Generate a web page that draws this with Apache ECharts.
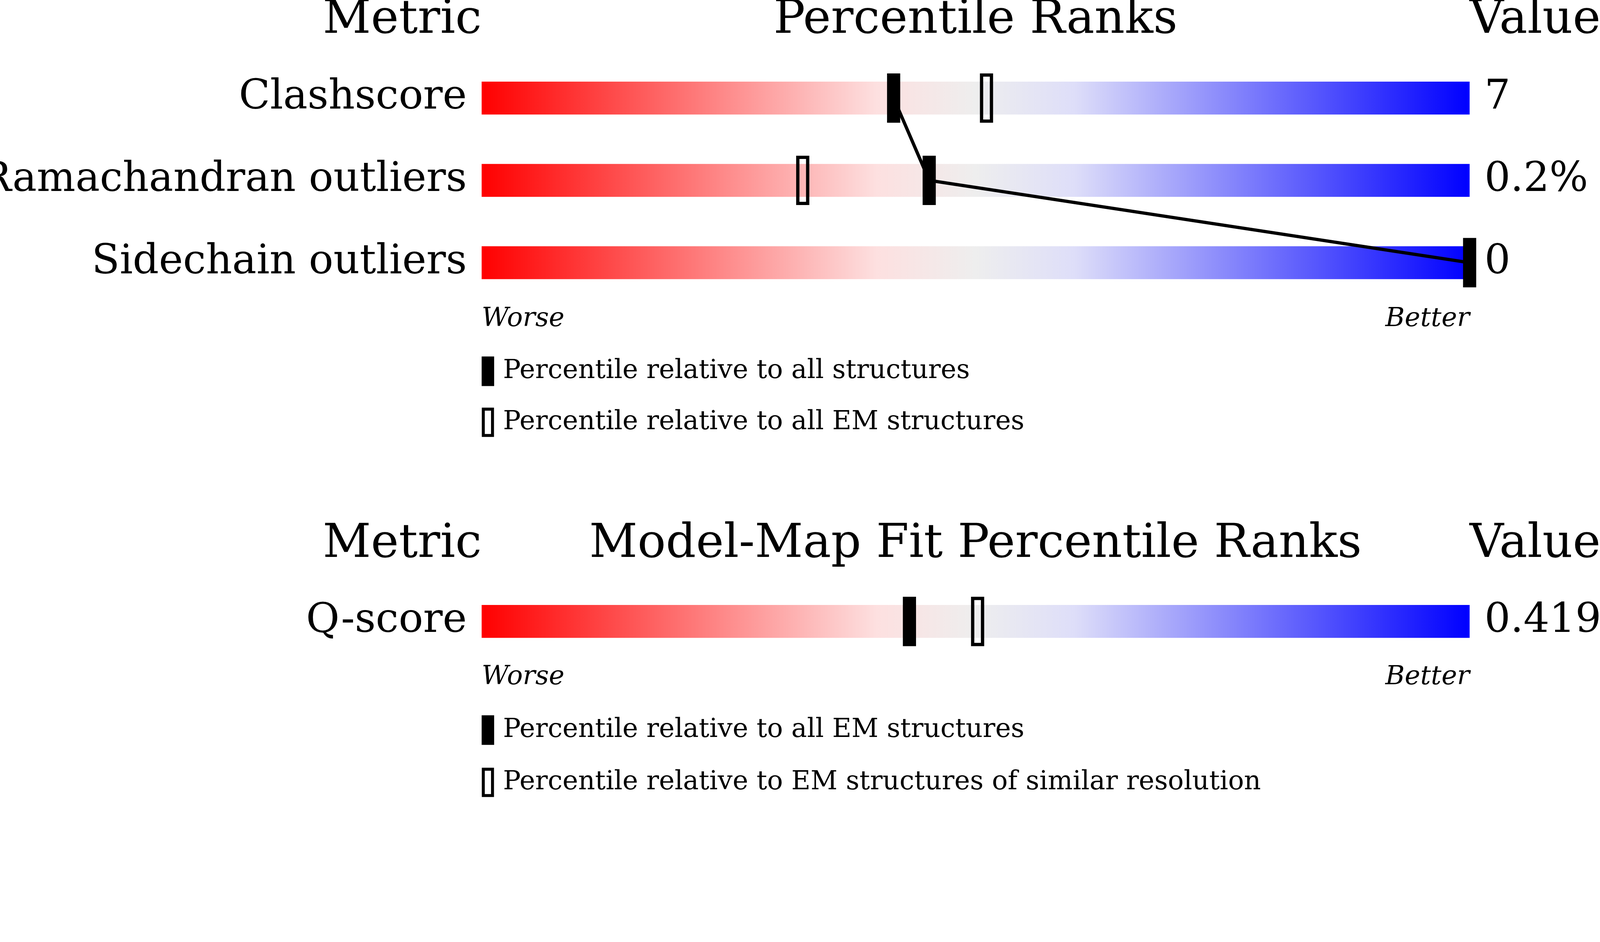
<!DOCTYPE html>
<html>
<head>
<meta charset="utf-8">
<script src="https://cdn.jsdelivr.net/npm/echarts@6/dist/echarts.min.js"></script>
<style>html,body{margin:0;padding:0;background:#fff;overflow:hidden}#chart{width:100vw;height:100vh}</style>
</head>
<body>
<div id="chart"></div>
<script>
// Validation metrics (top panel)
const metrics = ['Clashscore', 'Ramachandran outliers', 'Sidechain outliers']
const metricValues = ['7', '0.2%', '0']
const pctAll = [41.7, 45.3, 100]
const pctEM = [51.1, 32.5, null]

// Model-map fit (bottom panel)
const fitMetrics = ['Q-score']
const fitValues = ['0.419']
const fitPctAll = [43.3]
const fitPctRes = [50.2]

const FONT = 'DejaVu Serif'
// layout is designed for 4860 px wide, scale to the real viewport
const k = window.innerWidth / 4860
const s = v => v * k
const LEFT = s(1463), WIDTH = s(3001)

const gradient = () => new echarts.graphic.LinearGradient(0, 0, 1, 0, [
  { offset: 0, color: '#ff0000' },
  { offset: 0.4, color: '#fde0e0' },
  { offset: 0.5, color: '#eeeeee' },
  { offset: 0.6, color: '#dedef9' },
  { offset: 1, color: '#0000ff' }
])

// gradient background bars
const barSeries = (gi, cats) => ({
  type: 'custom', xAxisIndex: gi, yAxisIndex: gi * 2, z: 1,
  data: cats.map((c, i) => [0, i]),
  renderItem: (params, api) => {
    const a = api.coord([0, api.value(1)])
    const b = api.coord([100, api.value(1)])
    return { type: 'rect', shape: { x: a[0], y: a[1] - s(50), width: b[0] - a[0], height: s(100) },
      style: { fill: gradient() } }
  }
})

const markerSeries = (gi, vals, filled) => ({
  type: 'custom', xAxisIndex: gi, yAxisIndex: gi * 2, z: 5,
  data: vals.map((v, i) => [v, i]).filter(d => d[0] != null),
  renderItem: (params, api) => {
    const p = api.coord([api.value(0), api.value(1)])
    return filled
      ? { type: 'rect', shape: { x: p[0] - s(20), y: p[1] - s(75), width: s(40), height: s(150) }, style: { fill: '#000' } }
      : { type: 'rect', shape: { x: p[0] - s(15), y: p[1] - s(70), width: s(30), height: s(140) },
          style: { fill: 'none', stroke: '#000', lineWidth: s(10) } }
  }
})

const lineSeries = (gi, vals) => ({
  type: 'line', xAxisIndex: gi, yAxisIndex: gi * 2, z: 3,
  data: vals.map((v, i) => [v, i]), symbol: 'none',
  lineStyle: { color: '#000', width: s(10) }
})

const yCat = (gi, cats) => ({
  type: 'category', gridIndex: gi, data: cats, inverse: true,
  axisLine: { show: false }, axisTick: { show: false },
  axisLabel: { fontFamily: FONT, fontSize: s(124), color: '#000', margin: s(45) }
})
const yVal = (gi, vals) => ({
  type: 'category', gridIndex: gi, data: vals, inverse: true, position: 'right',
  axisLine: { show: false }, axisTick: { show: false },
  axisLabel: { fontFamily: FONT, fontSize: s(124), color: '#000', margin: s(45) }
})
const xAx = gi => ({ type: 'value', gridIndex: gi, min: 0, max: 100, show: false })

const txt = (x, y, text, size, align, italic) => ({
  type: 'text', x: s(x), y: s(y),
  style: { text, fontFamily: FONT, fontSize: s(size), fill: '#000', align: align,
    verticalAlign: 'middle', fontStyle: italic ? 'italic' : 'normal' }
})
const legendIcon = (y, filled) => filled
  ? { type: 'rect', shape: { x: s(1463), y: s(y - 45), width: s(38), height: s(90) }, style: { fill: '#000' } }
  : { type: 'rect', shape: { x: s(1468), y: s(y - 40), width: s(28), height: s(80) }, style: { fill: 'none', stroke: '#000', lineWidth: s(9) } }

const chart = echarts.init(document.getElementById('chart'))
chart.setOption({
  animation: false,
  backgroundColor: '#fff',
  grid: [
    { left: LEFT, width: WIDTH, top: s(173), height: s(750), outerBoundsMode: 'none', containLabel: false },
    { left: LEFT, width: WIDTH, top: s(1763), height: s(250), outerBoundsMode: 'none', containLabel: false }
  ],
  xAxis: [xAx(0), xAx(1)],
  yAxis: [yCat(0, metrics), yVal(0, metricValues), yCat(1, fitMetrics), yVal(1, fitValues)],
  series: [
    barSeries(0, metrics), lineSeries(0, pctAll),
    markerSeries(0, pctAll, true), markerSeries(0, pctEM, false),
    barSeries(1, fitMetrics),
    markerSeries(1, fitPctAll, true), markerSeries(1, fitPctRes, false)
  ],
  graphic: [
    txt(1463, 62, 'Metric', 143, 'right'),
    txt(2963, 62, 'Percentile Ranks', 143, 'center'),
    txt(4464, 62, 'Value', 143, 'left'),
    txt(1463, 970, 'Worse', 80, 'left', true),
    txt(4464, 970, 'Better', 80, 'right', true),
    legendIcon(1128, true), txt(1528, 1128, 'Percentile relative to all structures', 80, 'left'),
    legendIcon(1283, false), txt(1528, 1283, 'Percentile relative to all EM structures', 80, 'left'),
    txt(1463, 1655, 'Metric', 143, 'right'),
    txt(2963, 1655, 'Model-Map Fit Percentile Ranks', 143, 'center'),
    txt(4464, 1655, 'Value', 143, 'left'),
    txt(1463, 2058, 'Worse', 80, 'left', true),
    txt(4464, 2058, 'Better', 80, 'right', true),
    legendIcon(2218, true), txt(1528, 2218, 'Percentile relative to all EM structures', 80, 'left'),
    legendIcon(2377, false), txt(1528, 2377, 'Percentile relative to EM structures of similar resolution', 80, 'left')
  ]
})
</script>
</body>
</html>
